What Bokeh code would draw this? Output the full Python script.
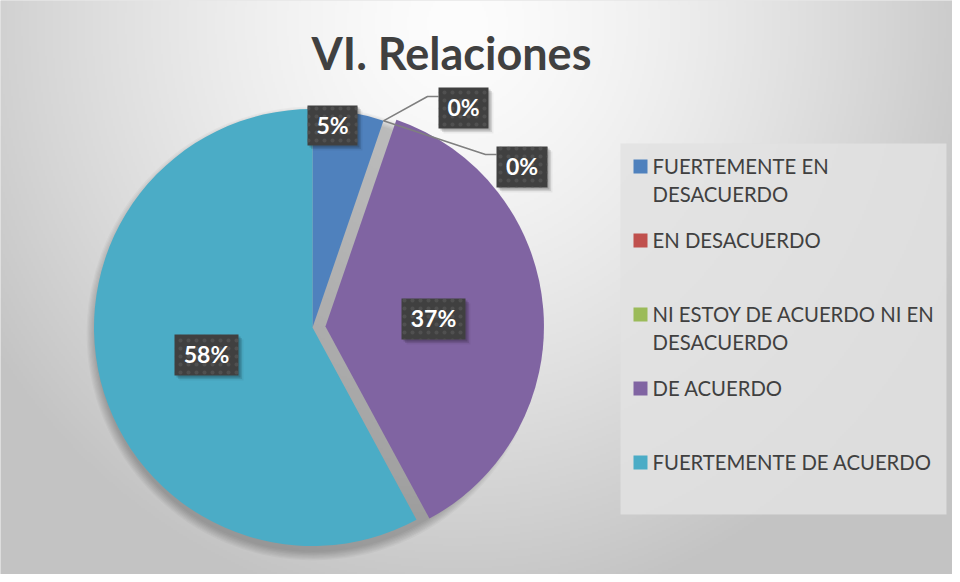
import numpy as np
from bokeh.plotting import figure
from bokeh.models import Range1d, ColumnDataSource
from bokeh.core.properties import value
from bokeh.embed import file_html
from bokeh.resources import INLINE

# ---------------- data ----------------
title = "VI. Relaciones"
categories = ["FUERTEMENTE EN DESACUERDO", "EN DESACUERDO",
              "NI ESTOY DE ACUERDO NI EN DESACUERDO", "DE ACUERDO",
              "FUERTEMENTE DE ACUERDO"]
legend_lines = [["FUERTEMENTE EN", "DESACUERDO"], ["EN DESACUERDO"],
                ["NI ESTOY DE ACUERDO NI EN", "DESACUERDO"], ["DE ACUERDO"],
                ["FUERTEMENTE DE ACUERDO"]]
counts = [1, 0, 0, 7, 11]

# ---------------- style / layout ----------------
colors = ["#4F81BD", "#C0504D", "#9BBB59", "#8064A2", "#4BACC6"]
W, H = 952, 574
CX, CY, R = 320.0, 335.0, 218.5       # pie centre / radius in page pixels
explode = [0, 0, 0, 13, 0]
FONT = "Lato"
BASE_FIX = 0.42                        # empirical baseline correction (em)
# label boxes (page pixel centres, sizes)
label_box = [(340, 133, 50, 40), (471, 115.5, 50, 41), (529.5, 174.5, 51, 41),
             (441, 326.5, 64, 41), (214, 362.5, 64, 41)]
# elbow points of leader lines for the outside labels
leader_elbow = {1: [(435, 104), (446, 104)], 2: [(493, 162), (504, 162)]}

p = figure(width=W, height=H, x_range=Range1d(8, 8 + W), y_range=Range1d(-8 - H, -8),
           output_backend="svg", toolbar_location=None, min_border=0,
           x_axis_type=None, y_axis_type=None)
p.grid.visible = False
p.outline_line_color = None
p.background_fill_color = "#d0d0d0"
p.border_fill_color = "white"


def txt(x, y_base, s, size, **kw):
    """place text so that its alphabetic baseline sits at page y = y_base"""
    p.text(x=[x], y=[-(y_base - BASE_FIX * size)], text=[s], text_baseline="alphabetic",
           text_font=value(FONT), text_font_size="%gpx" % size, **kw)


# ---------------- background gradient ----------------
nx, ny = W // 2, H // 2
xs = np.linspace(8, 8 + W, nx)
ys = np.linspace(8 + H, 8, ny)
X, Y = np.meshgrid(xs, ys)
d = np.sqrt(((X - 465) / 560.0) ** 2 + ((Y - 30) / 600.0) ** 2)
g = (253 - 58 * np.clip(d, 0, 1.0) ** 1.4).astype(np.uint8)
img = np.empty((ny, nx), dtype=np.uint32)
view = img.view(dtype=np.uint8).reshape((ny, nx, 4))
view[..., 0] = g
view[..., 1] = g
view[..., 2] = g
view[..., 3] = 255
p.image_rgba(image=[img], x=8, y=-(8 + H), dw=W, dh=H)

# ---------------- pie ----------------
total = float(sum(counts))
frac = [c / total for c in counts]
cum = np.concatenate([[0.0], np.cumsum(frac)])
start = [np.pi / 2 - 2 * np.pi * cum[i] for i in range(len(counts))]
end = [np.pi / 2 - 2 * np.pi * cum[i + 1] for i in range(len(counts))]
mid = [(s + e) / 2 for s, e in zip(start, end)]
cx = [CX + explode[i] * np.cos(mid[i]) for i in range(len(counts))]
cy = [-CY + explode[i] * np.sin(mid[i]) for i in range(len(counts))]

# soft shadow (mostly below the pie)
for k in range(0, 8):
    p.circle(x=CX + 1, y=-CY - 6, radius=R + 1.2 * k, fill_color="black",
             fill_alpha=0.032, line_color=None)

idx = [i for i in range(len(counts)) if counts[i] > 0]
src = ColumnDataSource(dict(
    x=[cx[i] for i in idx], y=[cy[i] for i in idx],
    start=[start[i] for i in idx], end=[end[i] for i in idx],
    color=[colors[i] for i in idx]))
p.wedge(x="x", y="y", radius=R, start_angle="start", end_angle="end",
        direction="clock", fill_color="color", line_color=None, source=src)

# ---------------- leader lines ----------------
for i, pts in leader_elbow.items():
    a = start[i]
    x0 = CX + R * np.cos(a)
    y0 = -CY + R * np.sin(a)
    p.line(x=[x0] + [q[0] for q in pts], y=[y0] + [-q[1] for q in pts],
           line_color="#7f7f7f", line_width=1.6)

# ---------------- data labels ----------------
pct = ["%d%%" % round(f * 100) for f in frac]
for i, (bx, by, bw, bh) in enumerate(label_box):
    for s, a in [(2, 0.16), (3.5, 0.1), (5, 0.05)]:
        p.quad(left=bx - bw / 2 + s, right=bx + bw / 2 + s,
               top=-(by - bh / 2) - s, bottom=-(by + bh / 2) - s,
               fill_color="black", fill_alpha=a, line_color=None)
    p.quad(left=bx - bw / 2, right=bx + bw / 2, top=-(by - bh / 2), bottom=-(by + bh / 2),
           fill_color="#404040", line_color=None,
           hatch_pattern="dot", hatch_color="#5a5a5a", hatch_scale=8,
           hatch_weight=1.0, hatch_alpha=0.6)
    txt(bx, by + 9, pct[i], 23, text_align="center", text_font_style="bold",
        text_color="white")

# ---------------- title ----------------
txt(459, 79, title, 45, text_align="center", text_font_style="bold",
    text_color="#404040")

# ---------------- legend ----------------
p.quad(left=628, right=954, top=-151, bottom=-522, fill_color="#e2e2e2",
       fill_alpha=0.85, line_color=None)
leg_y0, leg_step = 174, 74
for i, lines in enumerate(legend_lines):
    yc = leg_y0 + i * leg_step
    p.quad(left=641, right=655, top=-(yc - 7), bottom=-(yc + 7),
           fill_color=colors[i], line_color=None)
    for j, ln in enumerate(lines):
        txt(660, yc + 8 + 28 * j, ln, 20.3, text_align="left", text_color="#404040")

open("out.html", "w").write(file_html(p, INLINE))
